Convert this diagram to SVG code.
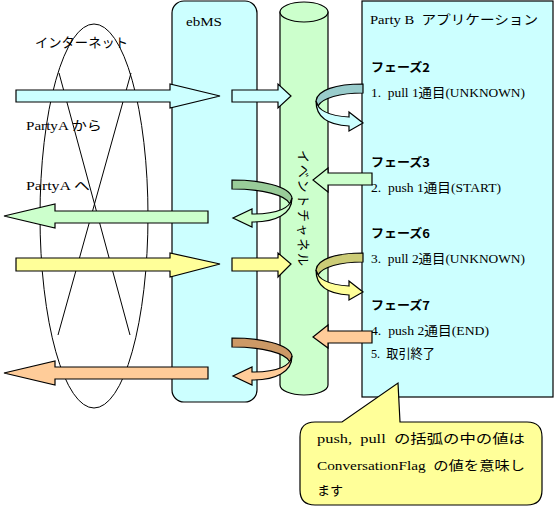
<svg xmlns="http://www.w3.org/2000/svg" width="554" height="511" viewBox="0 0 554 511">
<style>
.t{font-family:"Liberation Serif","Noto Sans CJK JP",serif;font-size:13px;fill:#000}
.b{font-family:"Noto Sans CJK JP",sans-serif;font-size:12px;font-weight:bold;fill:#000}
.s{stroke:#000;stroke-width:1.2}
.ln{fill:none;stroke:#000;stroke-width:1}
</style>
<rect width="554" height="511" fill="#fff"/>
<g id="internet">
<ellipse class="ln" cx="94" cy="216" rx="54" ry="192"/>
<line class="ln" x1="59" y1="73" x2="130" y2="335"/>
<line class="ln" x1="131" y1="73" x2="58" y2="335"/>
<text class="t" x="35" y="47" textLength="93" lengthAdjust="spacingAndGlyphs">インターネット</text>
<text class="t" x="26" y="130" textLength="76" lengthAdjust="spacingAndGlyphs" xml:space="preserve">PartyA から</text>
<text class="t" x="26" y="190" textLength="64" lengthAdjust="spacingAndGlyphs" xml:space="preserve">PartyA へ</text>
</g>
<g id="ebms">
<rect class="s" x="172" y="1" width="85" height="401" rx="12" fill="#CCFFFF"/>
<text class="t" x="186" y="26" textLength="36" lengthAdjust="spacingAndGlyphs">ebMS</text>
</g>
<g id="event-channel">
<path class="s" d="M280,12 L280,385 A24,10 0 0 0 328,385 L328,12 Z" fill="#CCFFCC"/>
<ellipse class="s" cx="304" cy="12" rx="24" ry="10" fill="#CCFFCC"/>
<text class="t" transform="translate(299,150) rotate(90)" textLength="116">イベントチャネル</text>
</g>
<g id="partyb">
<rect class="s" x="362" y="1" width="191" height="396" fill="#CCFFFF"/>
<text class="t" x="370" y="24" textLength="168" lengthAdjust="spacingAndGlyphs" xml:space="preserve">Party B  アプリケーション</text>
<text class="b" x="371" y="72" textLength="59" lengthAdjust="spacingAndGlyphs">フェーズ2</text>
<text class="t" x="371" y="97" textLength="154" lengthAdjust="spacingAndGlyphs" xml:space="preserve">1.  pull 1通目(UNKNOWN)</text>
<text class="b" x="371" y="167" textLength="59" lengthAdjust="spacingAndGlyphs">フェーズ3</text>
<text class="t" x="371" y="192" textLength="130" lengthAdjust="spacingAndGlyphs" xml:space="preserve">2.  push 1通目(START)</text>
<text class="b" x="371" y="238" textLength="59" lengthAdjust="spacingAndGlyphs">フェーズ6</text>
<text class="t" x="371" y="263" textLength="154" lengthAdjust="spacingAndGlyphs" xml:space="preserve">3.  pull 2通目(UNKNOWN)</text>
<text class="b" x="371" y="310" textLength="59" lengthAdjust="spacingAndGlyphs">フェーズ7</text>
<text class="t" x="371" y="335" textLength="118" lengthAdjust="spacingAndGlyphs" xml:space="preserve">4.  push 2通目(END)</text>
<text class="t" x="371" y="358" textLength="64" lengthAdjust="spacingAndGlyphs" xml:space="preserve">5.  取引終了</text>
</g>
<g id="connectors">
<path class="s" fill="#CCFFFF" d="M16,90 L170,90 L170,84 L220,96 L170,108 L170,102 L16,102 Z"/>
<path class="s" fill="#CCFFFF" d="M232,90 L278,90 L278,84 L291,96 L278,108 L278,102 L232,102 Z"/>
<path class="s" fill="#CCFFCC" d="M208,211 L55,211 L55,204 L4,216 L55,228 L55,223 L208,223 Z"/>
<path class="s" fill="#FFFF99" d="M16,258 L170,258 L170,253 L220,264 L170,277 L170,271 L16,271 Z"/>
<path class="s" fill="#FFFF99" d="M232,258 L278,258 L278,253 L291,264 L278,277 L278,271 L232,271 Z"/>
<path class="s" fill="#FFCC99" d="M208,367 L55,367 L55,361 L4,373 L55,385 L55,379 L208,379 Z"/>
<path class="s" fill="#CCFFCC" d="M372,173 L328,173 L328,168 L313,180 L328,192 L328,185 L372,185 Z"/>
<path class="s" fill="#FFCC99" d="M372,331 L328,331 L328,325 L313,337 L328,348 L328,343 L372,343 Z"/>
<g id="loop-pull1">
<path class="s" fill="#99CCCC" d="M363,84 C336,84 317,90 316,101 L318,106 C322,98 340,93 363,93 Z"/>
<path class="s" fill="#CCFFFF" d="M316,101 C318,112 332,116 349,117 L349,112 L363,123 L349,131 L349,126 C328,125 316,118 316,101 Z"/>
</g>
<g id="loop-pull2" transform="translate(0,169)">
<path class="s" fill="#CCCC77" d="M363,84 C336,84 317,90 316,101 L318,106 C322,98 340,93 363,93 Z"/>
<path class="s" fill="#FFFF99" d="M316,101 C318,112 332,116 349,117 L349,112 L363,123 L349,131 L349,126 C328,125 316,118 316,101 Z"/>
</g>
<g id="loop-push1">
<path class="s" fill="#99CC99" d="M232,180 C260,180 290,186 292,198 L290,204 C286,195 262,189 232,189 Z"/>
<path class="s" fill="#CCFFCC" d="M292,198 C290,210 272,214 252,214 L252,209 L233,218 L252,227 L252,222 C276,222 292,214 292,198 Z"/>
</g>
<g id="loop-push2" transform="translate(0,158)">
<path class="s" fill="#CC9966" d="M232,180 C260,180 290,186 292,198 L290,204 C286,195 262,189 232,189 Z"/>
<path class="s" fill="#FFCC99" d="M292,198 C290,210 272,214 252,214 L252,209 L233,218 L252,227 L252,222 C276,222 292,214 292,198 Z"/>
</g>
</g>
<g id="callout">
<path class="s" fill="#FFFF99" d="M315,422 L342,422 L398,383 L400,422 L527,422 Q542,422 542,437 L542,490 Q542,505 527,505 L315,505 Q300,505 300,490 L300,437 Q300,422 315,422 Z"/>
<text class="t" x="317" y="443" textLength="208" lengthAdjust="spacingAndGlyphs" xml:space="preserve">push,  pull  の括弧の中の値は</text>
<text class="t" x="317" y="470" textLength="208" lengthAdjust="spacingAndGlyphs" xml:space="preserve">ConversationFlag  の値を意味し</text>
<text class="t" x="317" y="495">ます</text>
</g>
</svg>
